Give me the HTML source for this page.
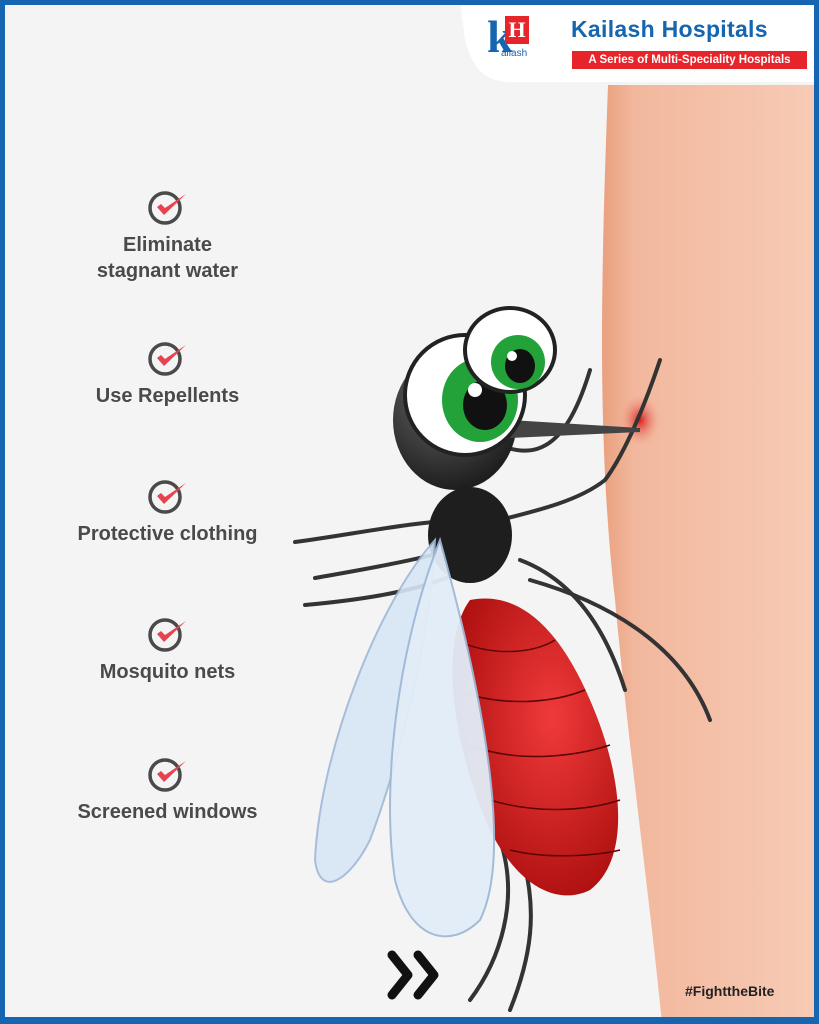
<!DOCTYPE html>
<html><head><meta charset="utf-8"><style>
html,body{margin:0;padding:0}
body{width:819px;height:1024px;position:relative;overflow:hidden;background:#f4f4f4;font-family:"Liberation Sans",sans-serif}
.frame{position:absolute;inset:0;border:5px solid #1565b0;border-bottom-width:7px;box-sizing:border-box;pointer-events:none;z-index:10}
.item{position:absolute;left:40px;width:255px;text-align:center;color:#4a4a4a;font-weight:bold;font-size:20px;line-height:26px}
.item svg{display:block;margin:0 auto 6px}
</style></head><body>
<svg width="819" height="1024" style="position:absolute;left:0;top:0">
<defs>
<linearGradient id="sk" x1="0" x2="1"><stop offset="0" stop-color="#e9a07e"/><stop offset="0.15" stop-color="#f2b89d"/><stop offset="1" stop-color="#f7cbb6"/></linearGradient>
<radialGradient id="bd" cx="0.6" cy="0.4" r="0.7"><stop offset="0" stop-color="#f03a3a"/><stop offset="1" stop-color="#a80c0c"/></radialGradient>
<radialGradient id="hd" cx="0.4" cy="0.3" r="0.7"><stop offset="0" stop-color="#6a6a6a"/><stop offset="1" stop-color="#1e1e1e"/></radialGradient>
<radialGradient id="bite" cx="0.5" cy="0.5" r="0.5"><stop offset="0" stop-color="#d81c1c"/><stop offset="1" stop-color="#f2b89d" stop-opacity="0"/></radialGradient>
</defs>
<path d="M608 85 C600 300 598 450 615 600 C630 760 650 900 662 1024 L819 1024 L819 85 Z" fill="url(#sk)"/>
<ellipse cx="640" cy="420" rx="22" ry="28" fill="url(#bite)"/>
<!-- legs -->
<g stroke="#333" stroke-width="4" fill="none" stroke-linecap="round">
<path d="M470 520 C420 520 350 535 295 542"/>
<path d="M470 545 C420 560 360 570 315 578"/>
<path d="M480 560 C440 590 360 600 305 605"/>
<path d="M500 520 C540 510 580 500 605 480 C620 460 640 420 660 360"/>
<path d="M520 560 C560 575 600 610 625 690"/>
<path d="M530 580 C600 600 680 640 710 720"/>
<path d="M500 840 C520 900 500 960 470 1000"/>
<path d="M520 850 C540 910 530 960 510 1010"/>
<path d="M470 430 C520 460 560 470 590 370"/>
</g>
<!-- abdomen -->
<path d="M470 600 C440 640 450 740 490 830 C520 890 560 905 590 890 C630 860 625 780 590 700 C560 630 520 590 470 600 Z" fill="url(#bd)"/>
<g stroke="#5a0505" stroke-width="1.5" fill="none"><path d="M455 640 C500 660 540 650 555 640"/><path d="M455 690 C510 710 560 700 585 690"/><path d="M470 745 C520 765 580 755 610 745"/><path d="M490 800 C540 815 590 810 620 800"/><path d="M510 850 C550 860 600 855 620 850"/></g>
<!-- thorax -->
<ellipse cx="470" cy="535" rx="42" ry="48" fill="#1e1e1e"/>
<!-- wings -->
<path d="M435 540 C380 600 320 750 315 860 C320 900 350 880 370 840 C400 760 430 640 435 540 Z" fill="#d8e6f5" stroke="#9fb8d8" stroke-width="2" opacity="0.9"/>
<path d="M440 540 C400 640 380 780 395 880 C410 940 450 950 480 920 C510 860 490 720 440 540 Z" fill="#e2edf8" stroke="#9fb8d8" stroke-width="2" opacity="0.95"/>
<!-- head -->
<ellipse cx="455" cy="420" rx="62" ry="70" fill="url(#hd)"/>
<path d="M510 420 L640 428 L640 432 L510 438 Z" fill="#444"/>
<!-- eyes -->
<ellipse cx="465" cy="395" rx="60" ry="60" fill="#fff" stroke="#222" stroke-width="4"/>
<ellipse cx="480" cy="400" rx="38" ry="42" fill="#23a23a"/>
<ellipse cx="485" cy="405" rx="22" ry="25" fill="#111"/>
<circle cx="475" cy="390" r="7" fill="#fff"/>
<ellipse cx="510" cy="350" rx="45" ry="42" fill="#fff" stroke="#222" stroke-width="4"/>
<ellipse cx="518" cy="362" rx="27" ry="27" fill="#23a23a"/>
<ellipse cx="520" cy="366" rx="15" ry="17" fill="#111"/>
<circle cx="512" cy="356" r="5" fill="#fff"/>
<!-- arrows -->
<path d="M392 955 L408 975 L392 995 M418 955 L434 975 L418 995" stroke="#111" stroke-width="9" fill="none" stroke-linecap="round" stroke-linejoin="round"/>
<!-- logo card -->
<path d="M460 0 L819 0 L819 82 L510 82 C480 82 470 60 465 40 Z" fill="#fff"/>
</svg>
<div style="position:absolute;left:487px;top:14px;width:44px;height:50px">
<div style="position:absolute;left:0;top:0;font:bold 46px 'Liberation Serif',serif;color:#1565b0;line-height:46px">k</div>
<div style="position:absolute;left:18px;top:2px;width:24px;height:28px;background:#e8242b;color:#fff;font:bold 22px 'Liberation Serif',serif;text-align:center;line-height:28px">H</div>
<div style="position:absolute;left:14px;top:34px;font:10px 'Liberation Sans',sans-serif;color:#1565b0">ailash</div>
</div>
<div style="position:absolute;left:571px;top:16px;font-weight:bold;font-size:23px;color:#1565b0;letter-spacing:0.3px">Kailash Hospitals</div>
<div style="position:absolute;left:572px;top:51px;width:235px;height:18px;background:#e8242b;color:#fff;font-weight:bold;font-size:11.5px;line-height:18px;text-align:center">A Series of Multi-Speciality Hospitals</div>

<div class="item" style="top:188px"><svg width="44" height="38" viewBox="0 0 44 38"><circle cx="19" cy="20" r="15" fill="none" stroke="#4a4a4a" stroke-width="3.5"/><path d="M11 19 L18 27 L40 6 L19 20 L15 16 Z" fill="#e8424f"/></svg>Eliminate<br>stagnant water</div>
<div class="item" style="top:339px"><svg width="44" height="38" viewBox="0 0 44 38"><circle cx="19" cy="20" r="15" fill="none" stroke="#4a4a4a" stroke-width="3.5"/><path d="M11 19 L18 27 L40 6 L19 20 L15 16 Z" fill="#e8424f"/></svg>Use Repellents</div>
<div class="item" style="top:477px"><svg width="44" height="38" viewBox="0 0 44 38"><circle cx="19" cy="20" r="15" fill="none" stroke="#4a4a4a" stroke-width="3.5"/><path d="M11 19 L18 27 L40 6 L19 20 L15 16 Z" fill="#e8424f"/></svg>Protective clothing</div>
<div class="item" style="top:615px"><svg width="44" height="38" viewBox="0 0 44 38"><circle cx="19" cy="20" r="15" fill="none" stroke="#4a4a4a" stroke-width="3.5"/><path d="M11 19 L18 27 L40 6 L19 20 L15 16 Z" fill="#e8424f"/></svg>Mosquito nets</div>
<div class="item" style="top:755px"><svg width="44" height="38" viewBox="0 0 44 38"><circle cx="19" cy="20" r="15" fill="none" stroke="#4a4a4a" stroke-width="3.5"/><path d="M11 19 L18 27 L40 6 L19 20 L15 16 Z" fill="#e8424f"/></svg>Screened windows</div>

<div style="position:absolute;left:685px;top:983px;font-weight:bold;font-size:14px;color:#222">#FighttheBite</div>
<div class="frame"></div>
</body></html>
